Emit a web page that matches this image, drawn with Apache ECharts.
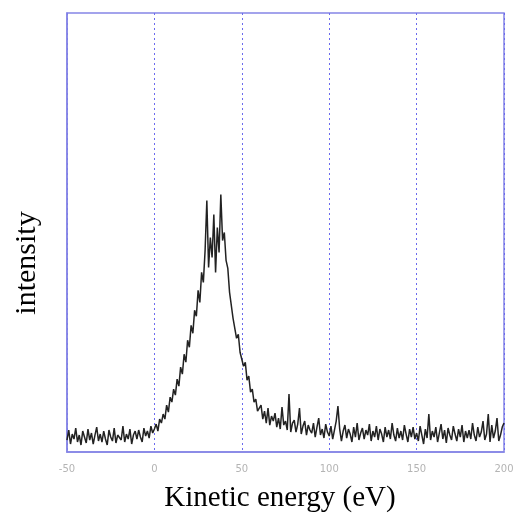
<!DOCTYPE html>
<html>
<head>
<meta charset="utf-8">
<style>
  html, body { margin: 0; padding: 0; background: #fff; }
  #chart { width: 517px; height: 516px; }
</style>
<script src="https://cdn.jsdelivr.net/npm/echarts@6/dist/echarts.min.js"></script>
</head>
<body>
<div id="chart"></div>
<script>
// energy axis ticks
var xTicks = [-50, 0, 50, 100, 150, 200];
var startEnergy = -50; // first sample, 1 eV step

// measured counts, one per eV from -50 to 200
var counts = [
  12, 22, 8, 18, 13, 24, 10, 17, 7, 21,
  15, 9, 23, 12, 19, 8, 17, 25, 11, 18,
  10, 21, 13, 7, 22, 15, 11, 24, 9, 17,
  19, 12, 26, 10, 18, 13, 23, 8, 17, 21,
  13, 22, 15, 10, 24, 16, 21, 14, 26, 19,
  23, 28, 21, 33, 29, 38, 33, 47, 40, 55,   // 0..9
  50, 63, 57, 73, 66, 85, 78, 98, 90, 112,
  105, 127, 119, 142, 136, 162, 150, 180, 170, 202,
  252, 185, 215, 195, 238, 180, 225, 200, 258, 212,   // 30..39
  220, 192, 184, 160, 158, 134, 136, 114, 118, 100,
  102, 86, 90, 72, 76, 60, 63, 50, 53, 41,    // 50..59
  40, 47, 33, 41, 29, 44, 27, 36, 31, 39,
  25, 34, 23, 45, 27, 31, 22, 58, 20, 29,
  32, 20, 28, 44, 18, 26, 31, 17, 27, 22,
  19, 29, 15, 25, 34, 17, 23, 14, 28, 20,
  16, 26, 13, 22, 31, 46, 23, 11, 21, 27,     // 100..109
  14, 23, 18, 10, 25, 15, 29, 12, 19, 24,
  13, 22, 17, 28, 11, 21, 15, 26, 12, 23,
  18, 10, 25, 15, 22, 13, 29, 17, 11, 24,
  14, 21, 12, 27, 18, 10, 23, 15, 25, 13,
  19, 11, 26, 17, 8, 23, 14, 38, 12, 21,      // 150..159
  15, 25, 10, 19, 28, 13, 22, 9, 24, 17,
  12, 26, 18, 11, 23, 15, 27, 10, 21, 14,
  22, 13, 29, 17, 11, 25, 15, 20, 31, 12,
  18, 38, 10, 27, 14, 21, 34, 11, 17, 25,
  29
];

var points = counts.map(function (v, i) { return [startEnergy + i, v]; });

var chart = echarts.init(document.getElementById('chart'));
var blue = '#8585e6';

chart.setOption({
  animation: false,
  grid: {
    left: 67, right: 13, top: 13, bottom: 64,
    show: true,
    borderColor: blue,
    borderWidth: 1.5
  },
  graphic: [{
    type: 'text',
    x: 280,
    y: 498,
    style: {
      text: 'Kinetic energy (eV)',
      font: '29px "Liberation Serif"',
      fill: '#000',
      align: 'center',
      verticalAlign: 'middle'
    }
  }, {
    type: 'text',
    x: 27,
    y: 263,
    rotation: Math.PI / 2,
    style: {
      text: 'intensity',
      font: '30px "Liberation Serif"',
      fill: '#000',
      align: 'center',
      verticalAlign: 'middle'
    }
  }],
  xAxis: {
    type: 'value',
    min: xTicks[0],
    max: xTicks[xTicks.length - 1],
    interval: 50,
    axisLine: { lineStyle: { color: blue, width: 1.5 } },
    axisTick: { show: false },
    axisLabel: {
      color: '#b4b4b4',
      fontSize: 10,
      fontFamily: 'DejaVu Sans',
      margin: 12
    },
    splitLine: {
      show: true,
      lineStyle: { color: '#6a6aee', type: [2, 3], width: 1 }
    }
  },
  yAxis: {
    type: 'value',
    min: 0,
    max: 440,
    axisLine: { show: true, onZero: false, lineStyle: { color: blue, width: 1.5 } },
    axisTick: { show: false },
    axisLabel: { show: false },
    splitLine: { show: false }
  },
  series: [{
    type: 'line',
    data: points,
    showSymbol: false,
    symbol: 'none',
    lineStyle: { color: '#222', width: 1.5 },
    silent: true
  }]
});
</script>
</body>
</html>
